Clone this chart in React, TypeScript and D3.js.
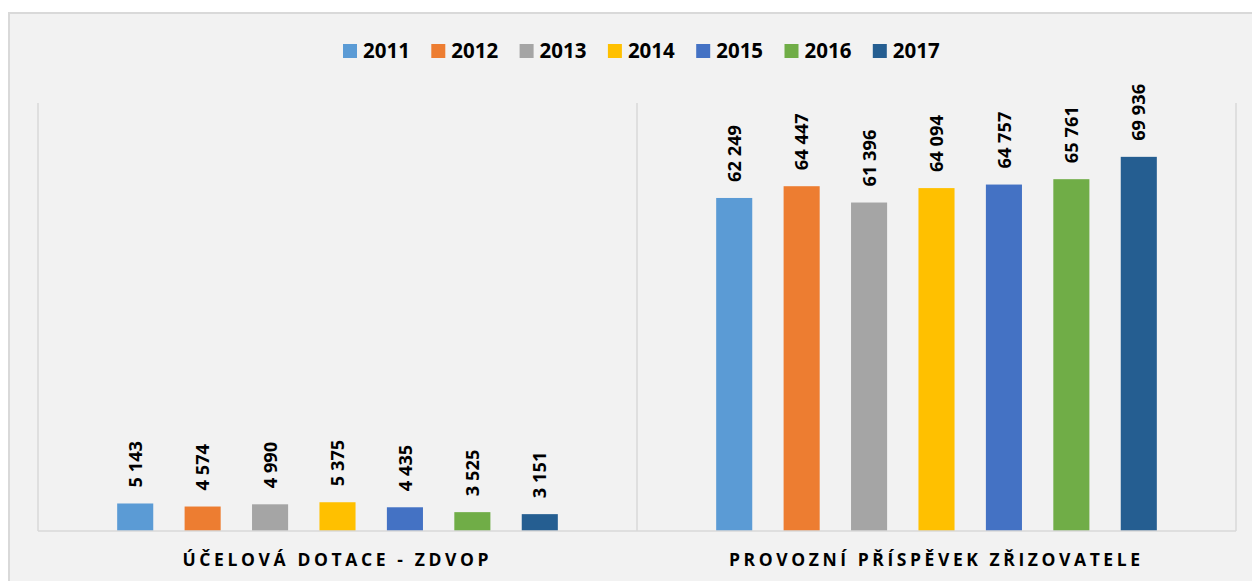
import React from "react";
import * as d3 from "d3";

const categories = ["ÚČELOVÁ DOTACE - ZDVOP", "PROVOZNÍ PŘÍSPĚVEK ZŘIZOVATELE"];
const years = ["2011", "2012", "2013", "2014", "2015", "2016", "2017"];
const colors = ["#5B9BD5", "#ED7D31", "#A5A5A5", "#FFC000", "#4472C4", "#70AD47", "#255E91"];
const dotace = [5143, 4574, 4990, 5375, 4435, 3525, 3151];
const provozni = [62249, 64447, 61396, 64094, 64757, 65761, 69936];
const yMax = 80000;

const W = 1252;
const H = 581;
const plot = { left: 38, right: 1236, top: 103, bottom: 531 };

const fmt = (v: number) => d3.format(",")(v).replace(/,/g, " ");

export default function App() {
  const series = [dotace, provozni];
  const x0 = d3.scaleBand<string>().domain(categories).range([plot.left, plot.right]).paddingInner(0).paddingOuter(0);
  const groupW = 472;
  const x1 = d3.scaleBand<string>().domain(years).range([0, groupW]).paddingInner(0.465).paddingOuter(0.2325);
  const y = d3.scaleLinear().domain([0, yMax]).range([plot.bottom, plot.top]);
  const bw = x1.bandwidth();
  const catLabelLen = [306, 411];

  return (
    <svg width={W} height={H} style={{ position: "absolute", left: 0, top: 0 }} fontFamily="'Open Sans', sans-serif">
      <rect x={0} y={0} width={W} height={H} fill="#ffffff" />
      <rect x={9} y={13} width={W + 20} height={H + 20} fill="#f2f2f2" stroke="#d9d9d9" strokeWidth={2} />
      {/* legend */}
      {years.map((yr, i) => {
        const lx = 343 + i * 88.3;
        return (
          <g key={yr}>
            <rect x={lx} y={44} width={14} height={14} fill={colors[i]} />
            <text x={lx + 20} y={58} fontSize={20.5} fontWeight="bold" fill="#000">{yr}</text>
          </g>
        );
      })}
      {/* vertical separators */}
      {[plot.left, x0(categories[1])!, plot.right].map((vx, i) => (
        <line key={i} x1={vx} x2={vx} y1={plot.top} y2={plot.bottom} stroke="#d9d9d9" strokeWidth={1.5} />
      ))}
      {/* bars */}
      {categories.map((c, ci) => {
        const gx = x0(c)! + (x0.bandwidth() - groupW) / 2;
        return (
          <g key={c}>
            {years.map((yr, i) => {
              const v = series[ci][i];
              const bx = gx + x1(yr)!;
              const by = y(v);
              return (
                <g key={yr}>
                  <rect x={bx} y={by} width={bw} height={plot.bottom - by} fill={colors[i]} />
                  <text
                    transform={`translate(${bx + bw / 2},${by - 16}) rotate(-90)`}
                    dy="0.36em"
                    fontSize={18.3}
                    fontWeight="bold"
                    fill="#000"
                  >
                    {fmt(v)}
                  </text>
                </g>
              );
            })}
            <text
              x={x0(c)! + x0.bandwidth() / 2 - 2}
              y={566}
              textAnchor="middle"
              fontSize={17.5}
              fontWeight="bold"
              textLength={catLabelLen[ci]}
              lengthAdjust="spacing"
              fill="#000"
            >
              {c}
            </text>
          </g>
        );
      })}
      <line x1={plot.left} x2={plot.right} y1={plot.bottom} y2={plot.bottom} stroke="#d9d9d9" strokeWidth={1.5} />
    </svg>
  );
}
